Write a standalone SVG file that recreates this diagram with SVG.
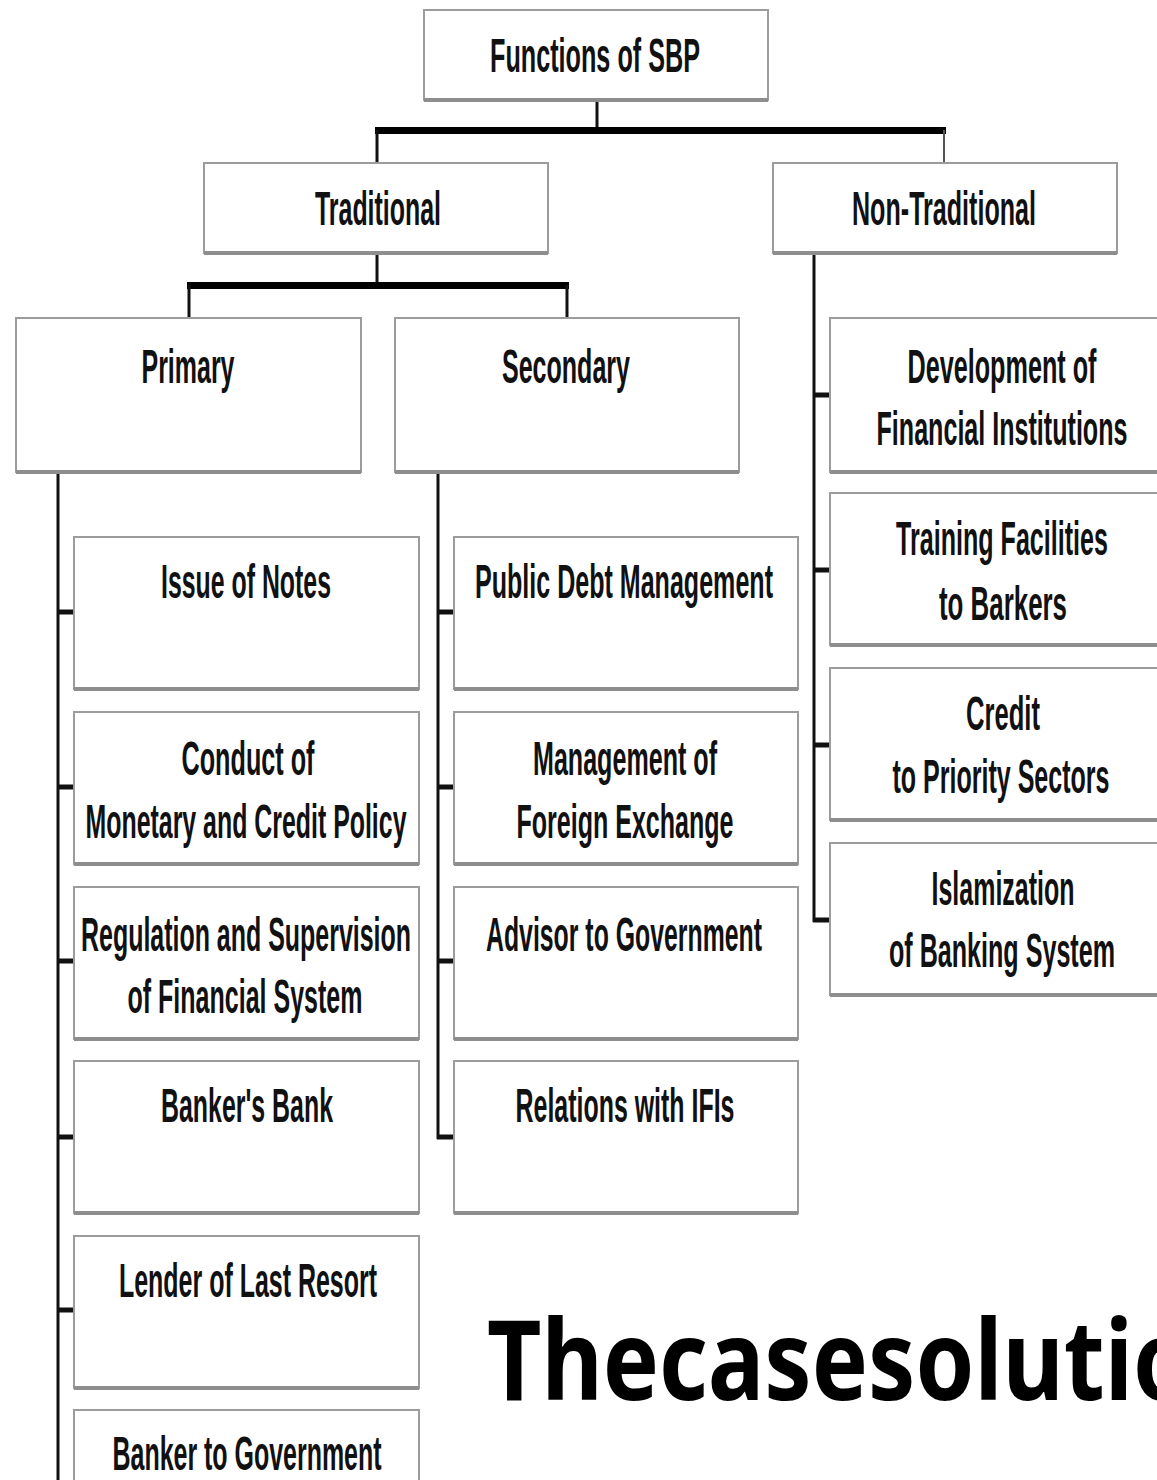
<svg xmlns="http://www.w3.org/2000/svg" width="1157" height="1480" viewBox="0 0 1157 1480">
<style>
.box{fill:#fff;stroke:#9c9c9c;stroke-width:2}
.sh{stroke:#8e8e8e;stroke-width:4}
.t{font-family:"Liberation Sans",Arial,sans-serif;font-weight:bold;font-size:48px;fill:#111;text-anchor:middle}
.ln{stroke:#111;stroke-width:3;fill:none}
.bar{fill:#000}
.wm{font-family:"Noto Sans","Open Sans",sans-serif;font-weight:bold;font-size:112px;fill:#000}
</style>
<rect width="1157" height="1480" fill="#fff"/>
<g id="connectors">
<line class="ln" x1="597" y1="100" x2="597" y2="130"/>
<rect class="bar" x="375" y="127" width="571" height="7"/>
<line class="ln" x1="377" y1="130" x2="377" y2="163"/>
<line x1="944" y1="130" x2="944" y2="163" stroke="#555" stroke-width="2"/>
<line class="ln" x1="377" y1="253" x2="377" y2="285"/>
<rect class="bar" x="187" y="282" width="382" height="7"/>
<line class="ln" x1="189" y1="285" x2="189" y2="318"/>
<line class="ln" x1="567" y1="285" x2="567" y2="318"/>
<line class="ln" x1="58" y1="472" x2="58" y2="1480"/>
<line class="ln" x1="438" y1="472" x2="438" y2="1139"/>
<line class="ln" x1="814" y1="253" x2="814" y2="922"/>
<g stroke="#111" stroke-width="5">
<line x1="57" y1="612" x2="74" y2="612"/>
<line x1="57" y1="787" x2="74" y2="787"/>
<line x1="57" y1="961" x2="74" y2="961"/>
<line x1="57" y1="1137" x2="74" y2="1137"/>
<line x1="57" y1="1310" x2="74" y2="1310"/>
<line x1="437" y1="612" x2="454" y2="612"/>
<line x1="437" y1="787" x2="454" y2="787"/>
<line x1="437" y1="961" x2="454" y2="961"/>
<line x1="437" y1="1137" x2="454" y2="1137"/>
<line x1="813" y1="395" x2="830" y2="395"/>
<line x1="813" y1="570" x2="830" y2="570"/>
<line x1="813" y1="745" x2="830" y2="745"/>
<line x1="813" y1="920" x2="830" y2="920"/>
</g>
</g>
<g id="root"><rect class="box" x="424" y="10" width="344" height="90"/><line class="sh" x1="424" y1="100" x2="768" y2="100"/><text class="t" transform="scale(0.5 1)" x="1190" y="72" textLength="420" lengthAdjust="spacingAndGlyphs">Functions of SBP</text></g>
<g id="traditional"><rect class="box" x="204" y="163" width="344" height="90"/><line class="sh" x1="204" y1="253" x2="548" y2="253"/><text class="t" transform="scale(0.5 1)" x="756" y="225" textLength="252" lengthAdjust="spacingAndGlyphs">Traditional</text></g>
<g id="nontraditional"><rect class="box" x="773" y="163" width="344" height="90"/><line class="sh" x1="773" y1="253" x2="1117" y2="253"/><text class="t" transform="scale(0.5 1)" x="1888" y="225" textLength="368" lengthAdjust="spacingAndGlyphs">Non-Traditional</text></g>
<g id="primary"><rect class="box" x="16" y="318" width="345" height="154"/><line class="sh" x1="16" y1="472" x2="361" y2="472"/><text class="t" transform="scale(0.5 1)" x="376" y="383" textLength="186" lengthAdjust="spacingAndGlyphs">Primary</text></g>
<g id="secondary"><rect class="box" x="395" y="318" width="344" height="154"/><line class="sh" x1="395" y1="472" x2="739" y2="472"/><text class="t" transform="scale(0.5 1)" x="1132" y="383" textLength="256" lengthAdjust="spacingAndGlyphs">Secondary</text></g>

<g id="issue-notes"><rect class="box" x="74" y="537" width="345" height="152"/><line class="sh" x1="74" y1="689" x2="419" y2="689"/><text class="t" transform="scale(0.5 1)" x="492" y="598" textLength="340" lengthAdjust="spacingAndGlyphs">Issue of Notes</text></g>
<g id="monetary-policy"><rect class="box" x="74" y="712" width="345" height="152"/><line class="sh" x1="74" y1="864" x2="419" y2="864"/><text class="t" transform="scale(0.5 1)" x="496" y="775" textLength="266" lengthAdjust="spacingAndGlyphs">Conduct of</text><text class="t" transform="scale(0.5 1)" x="492" y="838" textLength="642" lengthAdjust="spacingAndGlyphs">Monetary and Credit Policy</text></g>
<g id="regulation"><rect class="box" x="74" y="887" width="345" height="152"/><line class="sh" x1="74" y1="1039" x2="419" y2="1039"/><text class="t" transform="scale(0.5 1)" x="492" y="951" textLength="660" lengthAdjust="spacingAndGlyphs">Regulation and Supervision</text><text class="t" transform="scale(0.5 1)" x="490" y="1013" textLength="470" lengthAdjust="spacingAndGlyphs">of Financial System</text></g>
<g id="bankers-bank"><rect class="box" x="74" y="1061" width="345" height="152"/><line class="sh" x1="74" y1="1213" x2="419" y2="1213"/><text class="t" transform="scale(0.5 1)" x="494" y="1122" textLength="344" lengthAdjust="spacingAndGlyphs">Banker's Bank</text></g>
<g id="lender"><rect class="box" x="74" y="1236" width="345" height="152"/><line class="sh" x1="74" y1="1388" x2="419" y2="1388"/><text class="t" transform="scale(0.5 1)" x="496" y="1297" textLength="516" lengthAdjust="spacingAndGlyphs">Lender of Last Resort</text></g>
<g id="banker-gov"><rect class="box" x="74" y="1410" width="345" height="90"/><text class="t" transform="scale(0.5 1)" x="494" y="1470" textLength="538" lengthAdjust="spacingAndGlyphs">Banker to Government</text></g>

<g id="public-debt"><rect class="box" x="454" y="537" width="344" height="152"/><line class="sh" x1="454" y1="689" x2="798" y2="689"/><text class="t" transform="scale(0.5 1)" x="1248" y="598" textLength="596" lengthAdjust="spacingAndGlyphs">Public Debt Management</text></g>
<g id="forex"><rect class="box" x="454" y="712" width="344" height="152"/><line class="sh" x1="454" y1="864" x2="798" y2="864"/><text class="t" transform="scale(0.5 1)" x="1250" y="775" textLength="368" lengthAdjust="spacingAndGlyphs">Management of</text><text class="t" transform="scale(0.5 1)" x="1250" y="838" textLength="434" lengthAdjust="spacingAndGlyphs">Foreign Exchange</text></g>
<g id="advisor"><rect class="box" x="454" y="887" width="344" height="152"/><line class="sh" x1="454" y1="1039" x2="798" y2="1039"/><text class="t" transform="scale(0.5 1)" x="1248" y="951" textLength="552" lengthAdjust="spacingAndGlyphs">Advisor to Government</text></g>
<g id="ifis"><rect class="box" x="454" y="1061" width="344" height="152"/><line class="sh" x1="454" y1="1213" x2="798" y2="1213"/><text class="t" transform="scale(0.5 1)" x="1250" y="1122" textLength="438" lengthAdjust="spacingAndGlyphs">Relations with IFIs</text></g>

<g id="dev-fi"><rect class="box" x="830" y="318" width="340" height="154"/><line class="sh" x1="830" y1="472" x2="1170" y2="472"/><text class="t" transform="scale(0.5 1)" x="2004" y="383" textLength="378" lengthAdjust="spacingAndGlyphs">Development of</text><text class="t" transform="scale(0.5 1)" x="2004" y="445" textLength="502" lengthAdjust="spacingAndGlyphs">Financial Institutions</text></g>
<g id="training"><rect class="box" x="830" y="493" width="340" height="152"/><line class="sh" x1="830" y1="645" x2="1170" y2="645"/><text class="t" transform="scale(0.5 1)" x="2004" y="555" textLength="424" lengthAdjust="spacingAndGlyphs">Training Facilities</text><text class="t" transform="scale(0.5 1)" x="2006" y="620" textLength="256" lengthAdjust="spacingAndGlyphs">to Barkers</text></g>
<g id="credit"><rect class="box" x="830" y="668" width="340" height="152"/><line class="sh" x1="830" y1="820" x2="1170" y2="820"/><text class="t" transform="scale(0.5 1)" x="2006" y="730" textLength="148" lengthAdjust="spacingAndGlyphs">Credit</text><text class="t" transform="scale(0.5 1)" x="2002" y="793" textLength="434" lengthAdjust="spacingAndGlyphs">to Priority Sectors</text></g>
<g id="islamization"><rect class="box" x="830" y="843" width="340" height="152"/><line class="sh" x1="830" y1="995" x2="1170" y2="995"/><text class="t" transform="scale(0.5 1)" x="2006" y="905" textLength="286" lengthAdjust="spacingAndGlyphs">Islamization</text><text class="t" transform="scale(0.5 1)" x="2004" y="967" textLength="452" lengthAdjust="spacingAndGlyphs">of Banking System</text></g>

<text class="wm" x="487" y="1400" textLength="705" lengthAdjust="spacingAndGlyphs">Thecasesolutio</text>
</svg>
